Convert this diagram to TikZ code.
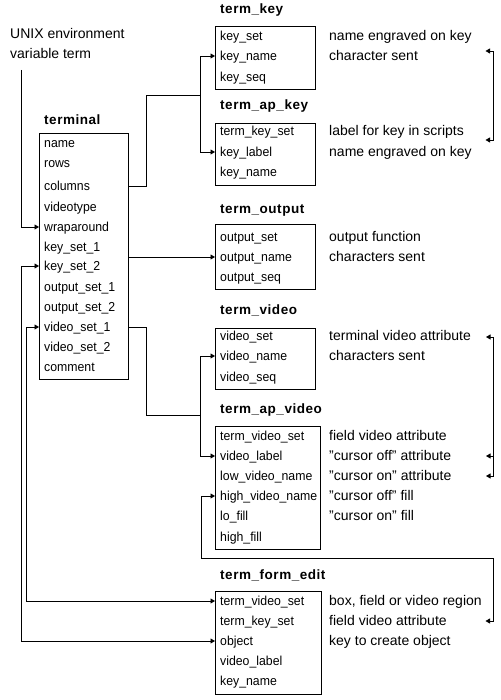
\documentclass[tikz,border=0pt]{standalone}
\usepackage{fontspec}
\setmainfont{Liberation Sans}
\newfontfamily\fieldfont[FakeStretch=0.945]{Liberation Sans}
\newfontfamily\titlefont[LetterSpace=4]{Liberation Sans}
\usetikzlibrary{arrows.meta}

\begin{document}
\begin{tikzpicture}[x=1pt,y=-1pt,
    relation/.style ={draw, line width=0.8pt, anchor=north west, inner sep=0pt},
    heading/.style ={anchor=west, inner sep=0pt, font=\titlefont\bfseries\fontsize{13.5}{16}\selectfont},
    attribute/.style ={anchor=west, inner sep=0pt, text height=10pt, text depth=1pt, font=\fieldfont\fontsize{13}{15}\selectfont},
    remark/.style ={anchor=west, inner sep=0pt, text height=10pt, text depth=1pt, font=\fontsize{14}{16}\selectfont},
    wire/.style ={line width=0.8pt},
    pointer/.style ={wire, -{Triangle[length=4.5pt,width=5pt]}},
    mutual/.style ={wire, {Triangle[length=4.5pt,width=5pt]}-{Triangle[length=4.5pt,width=5pt]}}]
   \useasboundingbox (0,0) rectangle (500,700);

   \node[remark, align=left, text height=, text depth=, font=\fontsize{14}{19.5}\selectfont] (unix) at (10,43.5) {UNIX environment\\variable term};

   \node[heading] (terminalname) at (44,120) {terminal};
   \node[relation, minimum width=89pt, minimum height=246pt] (terminal) at (39,133) {};
   \node[attribute] (tname) at (44,143) {name};
   \node[attribute] (trows) at (44,163) {rows};
   \node[attribute] (tcolumns) at (44,186) {columns};
   \node[attribute] (tvideotype) at (44,207) {videotype};
   \node[attribute] (twrap) at (44,227) {wraparound};
   \node[attribute] (tkset1) at (44,247) {key\_set\_1};
   \node[attribute] (tkset2) at (44,266) {key\_set\_2};
   \node[attribute] (toset1) at (44,287) {output\_set\_1};
   \node[attribute] (toset2) at (44,307) {output\_set\_2};
   \node[attribute] (tvset1) at (44,327) {video\_set\_1};
   \node[attribute] (tvset2) at (44,347) {video\_set\_2};
   \node[attribute] (tcomment) at (44,367) {comment};

   \node[heading] (keyname) at (220,10) {term\_key};
   \node[relation, minimum width=100pt, minimum height=63pt] (tkey) at (215,26) {};
   \node[attribute] (kset) at (220,36) {key\_set};
   \node[attribute] (kname) at (220,56) {key\_name};
   \node[attribute] (kseq) at (220,77) {key\_seq};
   \node[remark] (kset note) at (329,36) {name engraved on key};
   \node[remark] (kname note) at (329,56) {character sent};

   \node[heading] (apkeyname) at (220,106) {term\_ap\_key};
   \node[relation, minimum width=100pt, minimum height=62pt] (tapkey) at (215,123) {};
   \node[attribute] (aset) at (220,131) {term\_key\_set};
   \node[attribute] (alabel) at (220,152) {key\_label};
   \node[attribute] (aname) at (220,172) {key\_name};
   \node[remark] (aset note) at (329,131) {label for key in scripts};
   \node[remark] (alabel note) at (329,152) {name engraved on key};

   \node[heading] (outputname) at (220,210) {term\_output};
   \node[relation, minimum width=100pt, minimum height=65pt] (toutput) at (215,224) {};
   \node[attribute] (oset) at (220,237) {output\_set};
   \node[attribute] (oname) at (220,257) {output\_name};
   \node[attribute] (oseq) at (220,277) {output\_seq};
   \node[remark] (oset note) at (329,237) {output function};
   \node[remark] (oname note) at (329,257) {characters sent};

   \node[heading] (videoname) at (220,310) {term\_video};
   \node[relation, minimum width=100pt, minimum height=61pt] (tvideo) at (215,328) {};
   \node[attribute] (vset) at (220,336) {video\_set};
   \node[attribute] (vname) at (220,356) {video\_name};
   \node[attribute] (vseq) at (220,377) {video\_seq};
   \node[remark] (vset note) at (329,336) {terminal video attribute};
   \node[remark] (vname note) at (329,356) {characters sent};

   \node[heading] (apvideoname) at (220,410) {term\_ap\_video};
   \node[relation, minimum width=105pt, minimum height=123pt] (tapvideo) at (215,426) {};
   \node[attribute] (pset) at (220,436) {term\_video\_set};
   \node[attribute] (plabel) at (220,456) {video\_label};
   \node[attribute] (plow) at (220,476) {low\_video\_name};
   \node[attribute] (phigh) at (220,496) {high\_video\_name};
   \node[attribute] (plofill) at (220,516) {lo\_fill};
   \node[attribute] (phifill) at (220,537) {high\_fill};
   \node[remark] (pset note) at (329,436) {field video attribute};
   \node[remark] (plabel note) at (329,456) {"cursor off" attribute};
   \node[remark] (plow note) at (329,476) {"cursor on" attribute};
   \node[remark] (phigh note) at (329,496) {"cursor off" fill};
   \node[remark] (plofill note) at (329,516) {"cursor on" fill};

   \node[heading] (formeditname) at (220,575) {term\_form\_edit};
   \node[relation, minimum width=106pt, minimum height=103pt] (tformedit) at (215,591) {};
   \node[attribute] (fvset) at (220,601) {term\_video\_set};
   \node[attribute] (fkset) at (220,621) {term\_key\_set};
   \node[attribute] (fobject) at (220,641) {object};
   \node[attribute] (flabel) at (220,661) {video\_label};
   \node[attribute] (fkname) at (220,681) {key\_name};
   \node[remark] (fvset note) at (329,601) {box, field or video region};
   \node[remark] (fkset note) at (329,621) {field video attribute};
   \node[remark] (fobject note) at (329,641) {key to create object};

   \coordinate (unixtop) at (21,70);
   \coordinate (keyfork) at (200,95);
   \coordinate (videofork) at (200,415);
   \coordinate (keyrail) at (21,641);
   \coordinate (videorail) at (26.5,601);
   \coordinate (fillrail) at (201.5,558.5);
   \coordinate (fillturn) at (493,621);
   \coordinate (fillend) at (485.5,621);
   \coordinate (kbtop) at (485.5,51);
   \coordinate (kbbot) at (485.5,140);
   \coordinate (vbtop) at (486,337);
   \coordinate (vbmid) at (486,456);
   \coordinate (vbbot) at (486,476);
   \coordinate (vbline) at (493,456);

   \draw[pointer] (unixtop) |- (terminal.west |- twrap);
   \draw[wire] (terminal.east |- tcolumns) -- ++(17.5,0) |- (keyfork);
   \draw[pointer] (keyfork) |- (tkey.west |- kname);
   \draw[pointer] (keyfork) |- (tapkey.west |- alabel);
   \draw[pointer] (terminal.east |- oname) -- (toutput.west |- oname);
   \draw[wire] (terminal.east |- tvset1) -- ++(17.5,0) |- (videofork);
   \draw[pointer] (videofork) |- (tvideo.west |- vname);
   \draw[pointer] (videofork) |- (tapvideo.west |- plabel);
   \draw[mutual] (terminal.west |- tkset2) -| (keyrail) -- (tformedit.west |- fobject);
   \draw[mutual] (terminal.west |- tvset1) -| (videorail) -- (tformedit.west |- fvset);
   \draw[mutual] (tapvideo.west |- phigh) -| (fillrail) -| (fillturn) -- (fillend);
   \draw[mutual] (kbtop) -- ++(7.5,0) |- (kbbot);
   \draw[mutual] (vbtop) -- ++(7,0) |- (vbbot);
   \draw[pointer] (vbline) -- (vbmid);
 \end{tikzpicture}
\end{document}
